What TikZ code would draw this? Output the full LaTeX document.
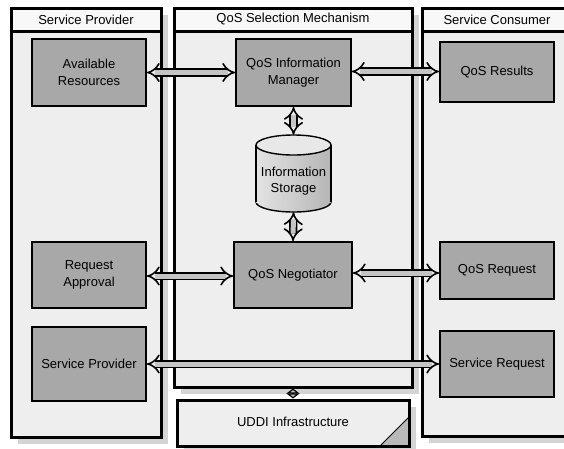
\documentclass[tikz,border=0pt]{standalone}
\usepackage{fontspec}
\setmainfont{Liberation Sans}
\usetikzlibrary{arrows.meta,shadows,calc}
\definecolor{lanefill}{HTML}{EEEEEE}
\definecolor{headfill}{HTML}{F8F8F8}
\definecolor{boxfill}{HTML}{A8A8A8}
\definecolor{arrfill}{HTML}{C4C4C4}
\definecolor{shadowc}{HTML}{D4D4D4}
\begin{document}
\begin{tikzpicture}[x=1pt,y=-1pt,
  font=\fontsize{13}{16.5}\selectfont,
  lane/.style={draw, line width=3pt, fill=lanefill, inner sep=0pt,
    drop shadow={shadow xshift=7pt, shadow yshift=-7pt, fill=shadowc, opacity=1}},
  box/.style={draw, line width=1.8pt, fill=boxfill, inner sep=0pt, align=center},
  dbl/.style={line width=1.6pt, double=arrfill, double distance=5pt,
    {Implies[length=8pt, width=20pt]}-{Implies[length=8pt, width=20pt]}},
  dbls/.style={line width=2pt, draw=black,
    {Triangle[length=5pt, width=13pt, line width=1.2pt, fill=arrfill]}-{Triangle[length=5pt, width=13pt, line width=1.2pt, fill=arrfill]}}]
\useasboundingbox (0,0) rectangle (564,448);
\clip (0,0) rectangle (564,448);
\fill[white] (0,0) rectangle (564,448);

% lanes
\node[lane, minimum width=150pt, minimum height=429pt] (laneSP) at (86,222.5) {};
\node[lane, minimum width=238pt, minimum height=379pt] (laneQ) at (293,197.5) {};
\node[lane, minimum width=150pt, minimum height=428pt] (laneSC) at (497,222) {};
% headers
\filldraw[fill=headfill, line width=3pt] (11,8) rectangle (161,31);
\filldraw[fill=headfill, line width=3pt] (174,8) rectangle (412,31);
\filldraw[fill=headfill, line width=3pt] (422,8) rectangle (572,31);
\node (hSP) at (86,19.5) {Service Provider};
\node (hQ) at (293,19.5) {QoS Selection Mechanism};
\node (hSC) at (497,19.5) {Service Consumer};

% UDDI
\node[fill=lanefill, minimum width=232pt, minimum height=46pt, outer sep=0pt,
  inner sep=0pt, drop shadow={shadow xshift=7pt, shadow yshift=-7pt, fill=shadowc, opacity=1}]
  (uddi) at (293,423) {};
\filldraw[fill=gray!55, line width=1pt] (380,446) -- (409,417) -- (409,446) -- cycle;
\draw[line width=3pt] (uddi.north west) rectangle (uddi.south east);
\node (uddiT) at (293,422) {UDDI Infrastructure};

% boxes
\node[box, minimum width=114pt, minimum height=67pt] (avail) at (89,72.5) {Available\\Resources};
\node[box, minimum width=115pt, minimum height=67pt] (info) at (293.5,72.5) {QoS Information\\Manager};
\node[box, minimum width=114pt, minimum height=60pt] (res) at (497,72) {QoS Results};
\node[box, minimum width=118pt, minimum height=66pt] (neg) at (293,275) {QoS Negotiator};
\node[box, minimum width=114pt, minimum height=66pt] (reqa) at (89,275) {Request\\Approval};
\node[box, minimum width=114pt, minimum height=74pt] (spb) at (89,364) {Service Provider};
\node[box, minimum width=114pt, minimum height=57pt] (qreq) at (497,270.5) {QoS Request};
\node[box, minimum width=114pt, minimum height=66pt] (sreq) at (497,364) {Service Request};

% storage cylinder
\node[inner sep=0pt, minimum width=75pt, minimum height=77pt] (stor) at (293.5,173.5) {};
\shade[left color=gray!22, right color=gray!58, draw=black, line width=1.4pt]
  (293.5,202) ellipse [x radius=37.5, y radius=10];
\shade[left color=gray!22, right color=gray!58] (256,145) rectangle (331,202);
\draw[line width=1.4pt] (256,145) -- (256,202) (331,145) -- (331,202);
\filldraw[fill=gray!18, line width=1.4pt] (293.5,145) ellipse [x radius=37.5, y radius=10];
\node[align=center] (storT) at (293.5,181) {Information\\Storage};

% connectors
\draw[dbl] (avail.east) -- (avail.east -| info.west);
\draw[dbl] ([yshift=1pt]info.east) -- ([yshift=1pt]info.east -| res.west);
\draw[dbl] (info.south) -- (stor.north);
\draw[dbl] (stor.south) -- (neg.north);
\draw[dbl] ([yshift=-1pt]reqa.east) -- ([yshift=-1pt]reqa.east -| neg.west);
\draw[dbl] ([yshift=2pt]neg.east) -- ([yshift=2pt]neg.east -| qreq.west);
\draw[dbl] (spb.east) -- (sreq.west);
\draw[dbls, shorten >=1.5pt] (laneQ.south) -- (uddi.north);
\end{tikzpicture}
\end{document}
